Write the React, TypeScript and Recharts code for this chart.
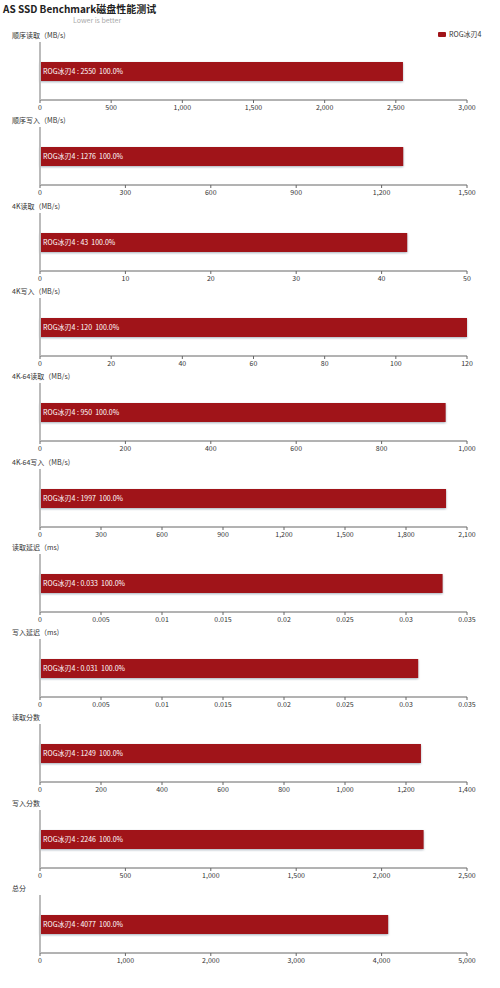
import { BarChart, Bar, XAxis, YAxis } from 'recharts';

const seriesName = 'ROG冰刃4';
const panelTitles = [
  '顺序读取（MB/s)',
  '顺序写入（MB/s)',
  '4K读取（MB/s)',
  '4K写入（MB/s)',
  '4K-64读取（MB/s)',
  '4K-64写入（MB/s)',
  '读取延迟（ms)',
  '写入延迟（ms)',
  '读取分数',
  '写入分数',
  '总分',
];
const values = [2550, 1276, 43, 120, 950, 1997, 0.033, 0.031, 1249, 2246, 4077];
const tickLists = [
  [0, 500, 1000, 1500, 2000, 2500, 3000],
  [0, 300, 600, 900, 1200, 1500],
  [0, 10, 20, 30, 40, 50],
  [0, 20, 40, 60, 80, 100, 120],
  [0, 200, 400, 600, 800, 1000],
  [0, 300, 600, 900, 1200, 1500, 1800, 2100],
  [0, 0.005, 0.01, 0.015, 0.02, 0.025, 0.03, 0.035],
  [0, 0.005, 0.01, 0.015, 0.02, 0.025, 0.03, 0.035],
  [0, 200, 400, 600, 800, 1000, 1200, 1400],
  [0, 500, 1000, 1500, 2000, 2500],
  [0, 1000, 2000, 3000, 4000, 5000],
];

const FONT = '"Noto Sans CJK SC", "Noto Sans", sans-serif';
const BAR_COLOR = '#a01419';
const PANEL_STEP = 85.3;
const FIRST_AXIS = 100;

function fmtTick(v: number): string {
  return v >= 1000 ? v.toLocaleString('en-US') : String(v);
}

function BarLabel(props: any) {
  const { x, y, height, value } = props;
  return (
    <text
      x={x + 3}
      y={y + height / 2}
      dy="0.35em"
      fill="#fff"
      fontSize={7}
    >
      {`${seriesName} : ${value}\u00a0\u00a0100.0%`}
    </text>
  );
}

function Panel({ index }: { index: number }) {
  const axisY = FIRST_AXIS + PANEL_STEP * index;
  const ticks = tickLists[index];
  const data = [{ name: seriesName, value: values[index] }];
  return (
    <>
      <div
        style={{
          position: 'absolute',
          left: 12,
          top: axisY - 70,
          fontSize: 7,
          lineHeight: '10px',
          color: '#333',
        }}
      >
        {panelTitles[index]}
      </div>
      <div style={{ position: 'absolute', left: 0, top: axisY - 70 }}>
        <BarChart
          width={500}
          height={86}
          layout="vertical"
          data={data}
          margin={{ top: 12, right: 33, bottom: 2, left: 38 }}
        >
          <XAxis
            type="number"
            domain={[0, ticks[ticks.length - 1]]}
            ticks={ticks}
            tickFormatter={fmtTick}
            height={14}
            tickSize={3}
            stroke="#666"
            tick={{ fontSize: 7, fill: '#333' }}
            interval={0}
          />
          <YAxis
            type="category"
            dataKey="name"
            width={2}
            tick={false}
            tickLine={false}
            axisLine={{ stroke: '#bbb', strokeWidth: 2 }}
          />
          <Bar
            dataKey="value"
            fill={BAR_COLOR}
            barSize={19}
            isAnimationActive={false}
            label={<BarLabel />}
            style={{ filter: 'drop-shadow(0.5px 1px 1px rgba(90,110,130,0.55))' }}
          />
        </BarChart>
      </div>
    </>
  );
}

export default function App() {
  return (
    <div
      style={{
        position: 'absolute',
        left: 0,
        top: 0,
        width: 500,
        height: 988,
        background: '#fff',
        fontFamily: FONT,
      }}
    >
      <div
        style={{
          position: 'absolute',
          left: 3,
          top: 2,
          fontSize: 10,
          fontWeight: 'bold',
          lineHeight: '14px',
          color: '#222',
        }}
      >
        AS SSD Benchmark磁盘性能测试
      </div>
      <div
        style={{
          position: 'absolute',
          left: 73,
          top: 15,
          fontSize: 7,
          lineHeight: '10px',
          color: '#aaa',
        }}
      >
        Lower is better
      </div>
      <div
        style={{
          position: 'absolute',
          left: 438,
          top: 29,
          display: 'flex',
          alignItems: 'center',
          fontSize: 7,
          color: '#333',
        }}
      >
        <span
          style={{
            display: 'inline-block',
            width: 8,
            height: 5,
            borderRadius: 1,
            background: BAR_COLOR,
            marginRight: 3,
          }}
        />
        {seriesName}
      </div>
      {panelTitles.map((_, i) => (
        <Panel key={i} index={i} />
      ))}
    </div>
  );
}
